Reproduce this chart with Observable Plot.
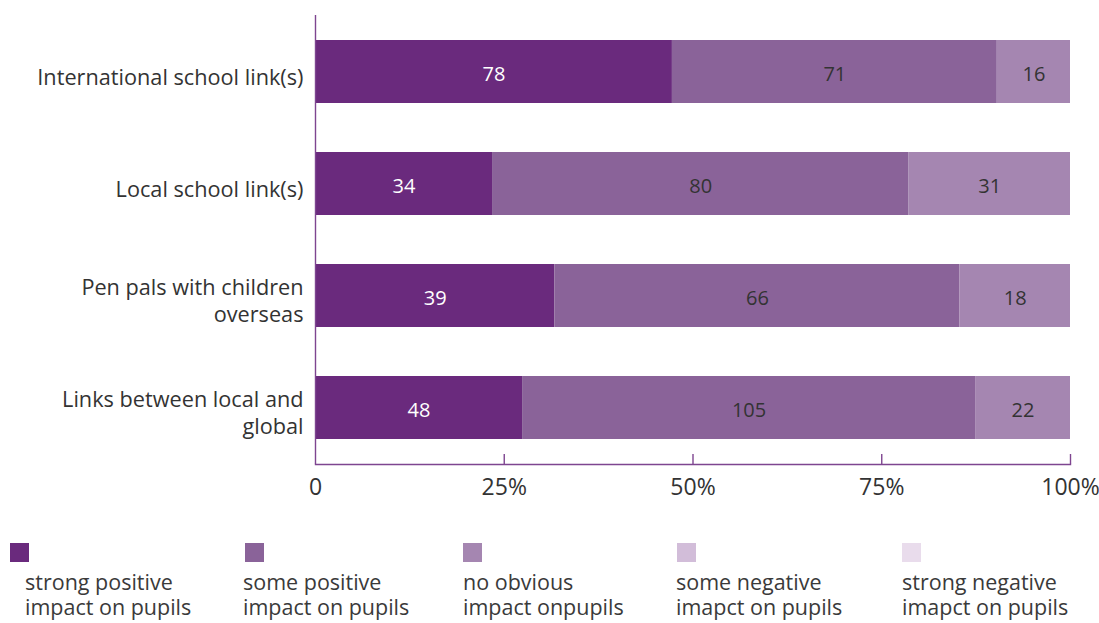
<!DOCTYPE html>
<html>
<head>
<meta charset="utf-8">
<script src="https://cdn.jsdelivr.net/npm/d3@7"></script>
<script src="https://cdn.jsdelivr.net/npm/@observablehq/plot@0.6"></script>
<style>
  html, body { margin: 0; padding: 0; background: #fff; }
  #wrap { position: relative; width: 1099px; height: 623px; font-family: "Open Sans", sans-serif; color: #333; }
  #chart svg { display: block; }
  .lg-sw { position: absolute; width: 19px; height: 19px; }
  .lg-tx { position: absolute; font-size: 21.5px; line-height: 25px; white-space: pre; color: #3a3a3a; }
</style>
</head>
<body>
<div id="wrap"><div id="chart"></div></div>
<script>
// ---- data ----
const categories = [
  "International school link(s)",
  "Local school link(s)",
  "Pen pals with children overseas",
  "Links between local and global"
];
const categoryLabels = [
  "International school link(s)",
  "Local school link(s)",
  "Pen pals with children\noverseas",
  "Links between local and\nglobal"
];
const series = [
  "strong positive impact on pupils",
  "some positive impact on pupils",
  "no obvious impact onpupils",
  "some negative imapct on pupils",
  "strong negative imapct on pupils"
];
const legendLabels = [
  "strong positive\nimpact on pupils",
  "some positive\nimpact on pupils",
  "no obvious\nimpact onpupils",
  "some negative\nimapct on pupils",
  "strong negative\nimapct on pupils"
];
const strongPositive = [78, 34, 39, 48];
const somePositive   = [71, 80, 66, 105];
const noObvious      = [16, 31, 18, 22];
const someNegative   = [0, 0, 0, 0];
const strongNegative = [0, 0, 0, 0];
const colors = ["#6a2a7d", "#8a6399", "#a586b1", "#d2bdd9", "#e9dcec"];
const xTicks = [0, 0.25, 0.5, 0.75, 1];
const xTickLabels = ["0", "25%", "50%", "75%", "100%"];

// ---- build normalized stack table ----
const seriesValues = [strongPositive, somePositive, noObvious, someNegative, strongNegative];
const rows = [];
categories.forEach((c, i) => {
  const vals = seriesValues.map(s => s[i]);
  const total = d3.sum(vals);
  let acc = 0;
  vals.forEach((v, j) => {
    rows.push({category: c, series: series[j], j, value: v, x1: acc / total, x2: (acc + v) / total});
    acc += v;
  });
});
const shown = rows.filter(d => d.value > 0);

const axisColor = "#7e4590";
const height = 510, marginTop = 15, marginBottom = 46;
const frameH = height - marginTop - marginBottom;

const chart = Plot.plot({
  width: 1099,
  height,
  marginLeft: 315,
  marginRight: 29,
  marginTop,
  marginBottom,
  x: {domain: [0, 1]},
  y: {domain: categories, paddingInner: 0.44, paddingOuter: 0.213},
  color: {domain: series, range: colors},
  style: {fontFamily: "Open Sans, sans-serif", color: "#333", background: "white", overflow: "visible"},
  marks: [
    Plot.barX(shown, {x1: "x1", x2: "x2", y: "category", fill: "series"}),
    Plot.text(shown.filter(d => d.j === 0), {x: d => (d.x1 + d.x2) / 2, y: "category", text: d => String(d.value), fill: "white", fontSize: 20, dy: 3}),
    Plot.text(shown.filter(d => d.j > 0), {x: d => (d.x1 + d.x2) / 2, y: "category", text: d => String(d.value), fill: "#333", fontSize: 20, dy: 3}),
    Plot.ruleX([0], {stroke: axisColor, strokeWidth: 1.4}),
    Plot.frame({anchor: "bottom", stroke: axisColor, strokeWidth: 1.4}),
    Plot.ruleX(xTicks.slice(1), {stroke: axisColor, strokeWidth: 1.4, insetTop: frameH - 10}),
    Plot.axisX(xTicks, {tickSize: 0, tickPadding: 14, tickFormat: d => xTickLabels[xTicks.indexOf(d)], fontSize: 23, label: null, fill: "#333"}),
    Plot.axisY({tickSize: 0, tickPadding: 12, tickFormat: d => categoryLabels[categories.indexOf(d)], fontSize: 21.7, lineHeight: 1.26, label: null, fill: "#333", dy: 4})
  ]
});
document.getElementById("chart").appendChild(chart);

// ---- legend (below the svg) ----
const swatchLeft = [10, 245, 463, 677, 902];
const textLeft = [25, 243, 463, 676, 902];
const wrap = document.getElementById("wrap");
series.forEach((s, i) => {
  const sw = document.createElement("div");
  sw.className = "lg-sw";
  sw.style.left = swatchLeft[i] + "px";
  sw.style.top = "543px";
  sw.style.background = colors[i];
  wrap.appendChild(sw);
  const tx = document.createElement("div");
  tx.className = "lg-tx";
  tx.style.left = textLeft[i] + "px";
  tx.style.top = "569px";
  tx.textContent = legendLabels[i];
  wrap.appendChild(tx);
});
</script>
</body>
</html>
